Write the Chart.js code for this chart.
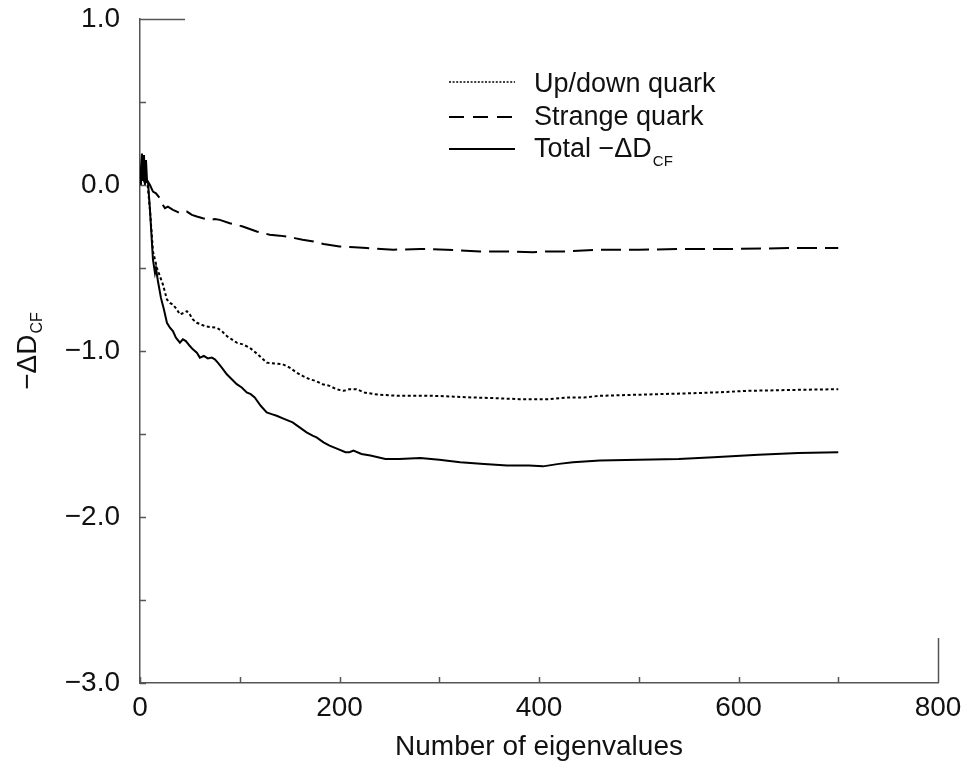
<!DOCTYPE html>
<html>
<head>
<meta charset="utf-8">
<script src="https://cdn.jsdelivr.net/npm/chart.js@4/dist/chart.umd.min.js"></script>
<style>
  html, body { margin: 0; padding: 0; background: #fff; }
  #c { display: block; }
</style>
</head>
<body>
<canvas id="c" width="968" height="767"></canvas>
<script>
/* --- values -------------------------------------------------------- */
const udX = [0, 1, 2, 3, 4, 5, 6, 7, 8, 10, 13, 15, 17, 20, 23, 27, 30, 33, 37, 40,
  44, 47, 50, 53, 57, 61, 65, 70, 77, 82, 87, 92, 97, 103, 110, 118, 127, 135, 143, 150,
  157, 163, 170, 176, 183, 190, 197, 204, 210, 217, 225, 235, 244, 260, 280, 294, 315, 334, 360, 380,
  394, 410, 428, 445, 461, 490, 520, 550, 575, 610, 650, 700];
const udY = [0.0, 0.05, 0.12, 0.02, 0.08, 0.0, 0.05, 0.02, -0.02, -0.15, -0.40, -0.45, -0.50, -0.55, -0.60, -0.69, -0.71, -0.72, -0.75, -0.78,
  -0.77, -0.76, -0.78, -0.81, -0.83, -0.84, -0.85, -0.855, -0.86, -0.88, -0.91, -0.93, -0.95, -0.96, -0.98, -1.02, -1.07, -1.075, -1.08, -1.10,
  -1.13, -1.15, -1.17, -1.18, -1.20, -1.21, -1.23, -1.24, -1.23, -1.23, -1.25, -1.26, -1.265, -1.27, -1.27, -1.27, -1.275, -1.28, -1.285, -1.29,
  -1.29, -1.29, -1.28, -1.28, -1.27, -1.265, -1.26, -1.255, -1.25, -1.24, -1.235, -1.23];

const sX = [0, 2, 4, 6, 8, 10, 13, 16, 20, 23, 25, 28, 33, 37, 40, 44, 47, 52, 57, 63,
  70, 75, 80, 90, 97, 103, 110, 117, 124, 130, 140, 147, 155, 163, 174, 184, 200, 215, 227, 254,
  281, 307, 341, 370, 394, 410, 428, 458, 500, 550, 600, 650, 700];
const sY = [0.02, 0.08, 0.03, 0.05, 0.02, 0.0, -0.04, -0.05, -0.08, -0.12, -0.14, -0.13, -0.15, -0.16, -0.17, -0.16, -0.16, -0.18, -0.19, -0.20,
  -0.21, -0.205, -0.21, -0.23, -0.24, -0.25, -0.265, -0.28, -0.29, -0.30, -0.305, -0.31, -0.32, -0.33, -0.34, -0.355, -0.37, -0.375, -0.38, -0.39,
  -0.385, -0.39, -0.40, -0.40, -0.405, -0.40, -0.40, -0.39, -0.39, -0.385, -0.385, -0.38, -0.38];

const totX = [0, 1, 2, 3, 4, 5, 6, 7, 8, 10, 13, 15, 16, 18, 21, 24, 27, 30, 33, 36,
  40, 43, 46, 50, 53, 57, 60, 64, 68, 72, 75, 78, 82, 87, 92, 97, 102, 107, 111, 115,
  121, 127, 132, 137, 145, 153, 160, 167, 173, 177, 184, 190, 198, 206, 210, 214, 222, 231, 246, 260,
  281, 300, 321, 345, 368, 390, 404, 420, 434, 461, 500, 540, 575, 620, 660, 700];
const totY = [0.0, 0.1, 0.19, 0.03, 0.18, 0.0, 0.15, 0.03, 0.02, -0.15, -0.45, -0.53, -0.50, -0.58, -0.68, -0.75, -0.83, -0.86, -0.88, -0.92,
  -0.95, -0.93, -0.94, -0.97, -0.99, -1.01, -1.04, -1.03, -1.045, -1.04, -1.05, -1.07, -1.10, -1.14, -1.17, -1.20, -1.22, -1.25, -1.26, -1.28,
  -1.33, -1.37, -1.38, -1.39, -1.41, -1.43, -1.46, -1.49, -1.51, -1.52, -1.55, -1.57, -1.59, -1.61, -1.61, -1.60, -1.62, -1.63, -1.65, -1.65,
  -1.645, -1.655, -1.67, -1.68, -1.69, -1.69, -1.695, -1.68, -1.67, -1.66, -1.655, -1.65, -1.64, -1.625, -1.615, -1.61];

const xTickLabels = [0, 200, 400, 600, 800];
const yTickLabels = [1, 0, -1, -2, -3];
const seriesNames = ['Up/down quark', 'Strange quark', 'Total \u2212\u0394D'];
const seriesSubs  = ['', '', 'CF'];

/* --- helpers -------------------------------------------------------- */
const FONT = "'Liberation Sans', Arial, Helvetica, sans-serif";
const INK = '#111';
const AXIS = '#555';
const pts = (xs, ys) => xs.map((x, i) => ({ x, y: ys[i] }));
const minus = s => s.replace('-', '\u2212');
const legendDash = [[2, 1.6], [15, 9], []];

/* inward ticks, legend and axis titles */
const decor = {
  id: 'decor',
  afterDraw(chart) {
    const { ctx, chartArea: a, scales: { x, y } } = chart;
    ctx.save();
    ctx.strokeStyle = AXIS;
    ctx.lineWidth = 1.5;
    ctx.beginPath();
    x.ticks.forEach(t => {
      const px = Math.round(x.getPixelForValue(t.value)) + 0.5;
      const len = t.value === x.max ? 45 : 6;
      ctx.moveTo(px, a.bottom); ctx.lineTo(px, a.bottom - len);
    });
    y.ticks.forEach(t => {
      const py = Math.round(y.getPixelForValue(t.value)) + 0.5;
      const len = t.value === y.max ? 45 : 6;
      ctx.moveTo(a.left, py); ctx.lineTo(a.left + len, py);
    });
    ctx.stroke();

    /* legend */
    const lx0 = 449, lx1 = 515, tx = 534;
    const lineY = [82, 117, 149], baseY = [92, 125, 157];
    chart.data.datasets.forEach((ds, i) => {
      ctx.strokeStyle = ds.borderColor;
      ctx.lineWidth = i === 0 ? 1.6 : ds.borderWidth;
      ctx.setLineDash(legendDash[i]);
      ctx.beginPath(); ctx.moveTo(lx0, lineY[i]); ctx.lineTo(lx1, lineY[i]); ctx.stroke();
      ctx.setLineDash([]);
      ctx.fillStyle = INK;
      ctx.textAlign = 'left'; ctx.textBaseline = 'alphabetic';
      ctx.font = `27px ${FONT}`;
      ctx.fillText(seriesNames[i], tx, baseY[i]);
      if (seriesSubs[i]) {
        const w = ctx.measureText(seriesNames[i]).width;
        ctx.font = `15px ${FONT}`;
        ctx.fillText(seriesSubs[i], tx + w + 1, baseY[i] + 9);
      }
    });

    /* x title */
    ctx.fillStyle = INK;
    ctx.font = `28px ${FONT}`;
    ctx.textAlign = 'center'; ctx.textBaseline = 'alphabetic';
    ctx.fillText('Number of eigenvalues', (a.left + a.right) / 2, 755);

    /* y title, rotated, with subscript */
    ctx.translate(36, (a.top + a.bottom) / 2);
    ctx.rotate(-Math.PI / 2);
    ctx.textAlign = 'left';
    ctx.font = `28px ${FONT}`;
    const main = '\u2212\u0394D';
    const w1 = ctx.measureText(main).width;
    ctx.font = `16px ${FONT}`;
    const w2 = ctx.measureText('CF').width;
    const x0 = -(w1 + w2 + 1) / 2;
    ctx.font = `28px ${FONT}`;
    ctx.fillText(main, x0, 0);
    ctx.font = `16px ${FONT}`;
    ctx.fillText('CF', x0 + w1 + 1, 6);
    ctx.restore();
  }
};

/* --- chart ---------------------------------------------------------- */
const axisCommon = {
  grid: { drawOnChartArea: false, drawTicks: false },
  border: { display: true, color: AXIS, width: 1.5 }
};

new Chart(document.getElementById('c'), {
  type: 'line',
  data: {
    datasets: [
      { label: seriesNames[0], data: pts(udX, udY), borderColor: '#000', borderWidth: 2, borderDash: [3, 2.5] },
      { label: seriesNames[1], data: pts(sX, sY), borderColor: '#000', borderWidth: 2, borderDash: [20, 8] },
      { label: seriesNames[2], data: pts(totX, totY), borderColor: '#000', borderWidth: 2 }
    ]
  },
  options: {
    responsive: false,
    animation: false,
    events: [],
    elements: { point: { radius: 0 }, line: { tension: 0, fill: false } },
    layout: { padding: { top: 19, right: 30, left: 0, bottom: 0 } },
    plugins: { legend: { display: false }, tooltip: { enabled: false } },
    scales: {
      x: {
        ...axisCommon,
        type: 'linear', min: 0, max: 800,
        afterFit: s => { s.height = 84; s.paddingLeft = 0; s.paddingRight = 0; },
        ticks: {
          stepSize: 100, autoSkip: false, maxRotation: 0, padding: 8,
          color: INK, font: { family: FONT, size: 28 },
          callback: v => xTickLabels.includes(v) ? String(v) : ''
        }
      },
      y: {
        ...axisCommon,
        type: 'linear', min: -3, max: 1,
        afterFit: s => { s.width = 140; s.paddingTop = 0; s.paddingBottom = 0; },
        ticks: {
          stepSize: 0.5, autoSkip: false, padding: 20,
          color: INK, font: { family: FONT, size: 28 },
          callback: v => yTickLabels.includes(v) ? minus(v.toFixed(1)) : ''
        }
      }
    }
  },
  plugins: [decor]
});
</script>
</body>
</html>
